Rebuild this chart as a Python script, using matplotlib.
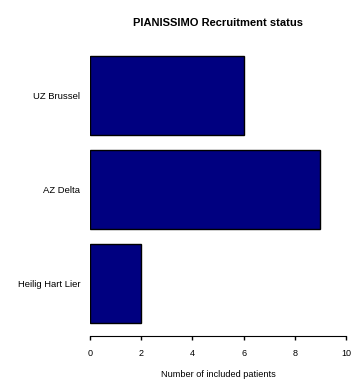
import matplotlib
matplotlib.use("Agg")
import matplotlib.pyplot as plt

sites = ["Heilig Hart Lier", "AZ Delta", "UZ Brussel"]
patients = [2, 9, 6]
xticks = [0, 2, 4, 6, 8, 10]

plt.rcParams['font.family'] = ['Liberation Sans', 'DejaVu Sans']

W, H = 359, 392
fig = plt.figure(figsize=(W/100, H/100), dpi=100)
left, right = 90, 346
bottom_px, top_px = 336, 40.3
ax = fig.add_axes([left/W, (H-bottom_px)/H, (right-left)/W, (bottom_px-top_px)/H])

ypos = [0.7 + 1.2*i for i in range(len(sites))]
ax.barh(ypos, patients, height=1.0, color='#000080', edgecolor='black', linewidth=1.0)

ax.set_xlim(0, 10)
ax.set_ylim(0.034, 3.8)
ax.set_xticks(xticks)
ax.set_xticklabels([str(t) for t in xticks], fontsize=6.5)
ax.set_yticks(ypos)
ax.set_yticklabels(sites, fontsize=6.8)
ax.tick_params(axis='y', length=0, pad=7)
ax.tick_params(axis='x', length=3, width=1, pad=6)
for s in ['top', 'right', 'left']:
    ax.spines[s].set_visible(False)
ax.spines['bottom'].set_bounds(0, 10)
ax.set_xlabel("Number of included patients", fontsize=6.6, labelpad=9)
fig.text((left+right)/2/W, 1-23/H, "PIANISSIMO Recruitment status",
         ha='center', va='center', fontsize=8, fontweight='bold')

fig.savefig("out.png", dpi=100)
